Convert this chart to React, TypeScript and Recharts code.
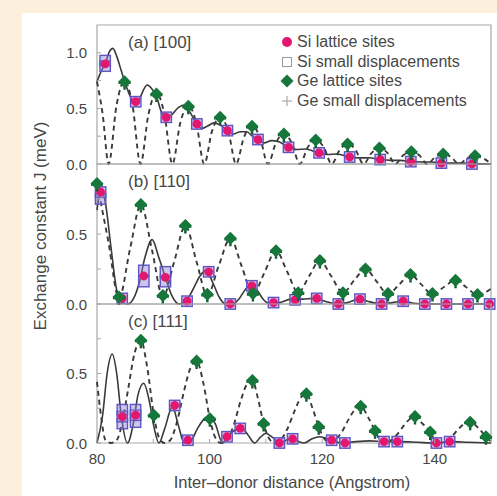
import React from 'react';
import { ComposedChart, Line, Scatter, XAxis, YAxis, ReferenceArea } from 'recharts';

// ---------- data ----------
const xDomain = [80, 150];
const xTicks = [80, 90, 100, 110, 120, 130, 140, 150];
const xTickLabels = [80, 100, 120, 140];
const yTicksA = [0, 0.25, 0.5, 0.75, 1.0];
const yLabelsA = [0, 0.5, 1.0];
const yTicksBC = [0, 0.25, 0.5, 0.75];
const yLabelsBC = [0, 0.5];

// Panel (a) [100]
const siSitesA = [
  [81.45, 0.9], [86.88, 0.56], [92.31, 0.42], [97.74, 0.36], [103.17, 0.3], [108.6, 0.22],
  [114.03, 0.15], [119.46, 0.1], [124.89, 0.063], [130.32, 0.04], [135.75, 0.021],
  [141.18, 0.008], [146.61, 0.0],
];
const siDispA = [
  [81.45, 0.93], [81.45, 0.88], [86.88, 0.56], [92.31, 0.42], [97.74, 0.36], [103.17, 0.3],
  [108.6, 0.22], [114.03, 0.15], [119.46, 0.1], [124.89, 0.063], [130.32, 0.04],
  [135.75, 0.021], [141.18, 0.008], [146.61, 0.0],
];
const geSitesA = [
  [84.9, 0.74], [90.56, 0.63], [96.22, 0.52], [101.88, 0.42], [107.54, 0.34], [113.2, 0.27],
  [118.86, 0.215], [124.52, 0.18], [130.18, 0.145], [135.84, 0.11], [141.5, 0.09], [147.16, 0.075],
];
const geCurveA = [
  [80, 0.74], [81.0, 0.45], [82.07, 0], [83.48, 0.53], [84.9, 0.75], [86.3, 0.53], [87.73, 0],
  [89.15, 0.45], [90.56, 0.64], [91.97, 0.45], [93.39, 0], [94.8, 0.37], [96.22, 0.53],
  [97.63, 0.37], [99.05, 0], [100.46, 0.3], [101.88, 0.42], [103.3, 0.3], [104.71, 0],
  [106.1, 0.24], [107.54, 0.345], [108.95, 0.24], [110.37, 0], [111.8, 0.19], [113.2, 0.275],
  [114.6, 0.19], [116.03, 0], [117.45, 0.15], [118.86, 0.215], [120.3, 0.15], [121.69, 0],
  [123.1, 0.125], [124.52, 0.18], [125.95, 0.125], [127.35, 0], [128.8, 0.1], [130.18, 0.145],
  [131.6, 0.1], [133.01, 0], [134.4, 0.078], [135.84, 0.11], [137.25, 0.078], [138.67, 0],
  [140.1, 0.063], [141.5, 0.09], [142.9, 0.063], [144.33, 0], [145.75, 0.052], [147.16, 0.075],
  [148.6, 0.052], [150, 0.0],
];
const siCurveA = [
  [80, 0.74], [80.8, 0.84], [81.45, 0.9], [82.2, 1.01], [82.8, 1.04], [83.5, 0.97], [84.3, 0.84],
  [85.2, 0.7], [86.2, 0.58], [86.88, 0.56], [87.5, 0.58], [88.2, 0.66], [88.9, 0.71], [89.7, 0.68],
  [90.6, 0.6], [91.5, 0.46], [92.31, 0.42], [93.2, 0.44], [94.5, 0.51], [95.6, 0.53], [96.6, 0.46],
  [97.74, 0.36], [98.6, 0.32], [99.6, 0.34], [100.8, 0.37], [101.9, 0.35], [103.17, 0.3],
  [104.2, 0.27], [105.5, 0.29], [106.6, 0.29], [107.6, 0.25], [108.6, 0.22], [109.7, 0.19],
  [111.0, 0.21], [112.3, 0.2], [114.03, 0.15], [115.5, 0.13], [117.0, 0.135], [118.2, 0.12],
  [119.46, 0.1], [121.0, 0.085], [122.6, 0.09], [124.89, 0.063], [126.6, 0.055], [128.3, 0.056],
  [130.32, 0.04], [132.2, 0.033], [133.8, 0.033], [135.75, 0.022], [137.6, 0.018], [139.3, 0.018],
  [141.18, 0.01], [143.0, 0.008], [144.8, 0.008], [146.61, 0.003], [150, 0.0],
];

// Panel (b) [110]
const siSitesB = [
  [80.64, 0.8], [84.48, 0.04], [88.32, 0.2], [92.16, 0.19], [96.0, 0.02], [99.84, 0.23],
  [103.68, 0.0], [107.52, 0.13], [111.36, 0.01], [115.2, 0.03], [119.04, 0.04], [122.88, 0.0],
  [126.72, 0.035], [130.56, 0.0], [134.4, 0.02], [138.24, 0.0], [142.08, 0.0], [145.92, 0.0],
  [149.76, 0.0],
];
const siDispB = [
  [80.64, 0.8], [80.64, 0.75], [84.48, 0.04], [88.32, 0.16], [88.32, 0.24], [92.16, 0.16],
  [92.16, 0.23], [96.0, 0.02], [99.84, 0.23], [103.68, 0.0], [107.52, 0.13], [111.36, 0.01],
  [115.2, 0.03], [119.04, 0.04], [122.88, 0.0], [126.72, 0.035], [130.56, 0.0], [134.4, 0.02],
  [138.24, 0.0], [142.08, 0.0], [145.92, 0.0], [149.76, 0.0],
];
const geSitesB = [
  [80.0, 0.86], [83.9, 0.05], [87.8, 0.71], [91.7, 0.06], [95.7, 0.56], [99.6, 0.07],
  [103.7, 0.47], [107.7, 0.075], [111.8, 0.38], [115.75, 0.08], [119.6, 0.31], [123.7, 0.08],
  [127.7, 0.25], [131.7, 0.075], [135.7, 0.21], [139.6, 0.075], [143.7, 0.17], [147.6, 0.068],
];
const geCurveB = [
  [80, 0.86], [82, 0.45], [83.9, 0.04], [85.9, 0.4], [87.8, 0.71], [89.8, 0.38], [91.7, 0.05],
  [93.7, 0.3], [95.7, 0.56], [97.7, 0.3], [99.6, 0.06], [101.6, 0.27], [103.7, 0.47],
  [105.7, 0.27], [107.7, 0.07], [109.7, 0.22], [111.8, 0.38], [113.8, 0.23], [115.75, 0.08],
  [117.7, 0.2], [119.6, 0.31], [121.6, 0.2], [123.7, 0.08], [125.7, 0.17], [127.7, 0.25],
  [129.7, 0.16], [131.7, 0.07], [133.7, 0.14], [135.7, 0.21], [137.6, 0.14], [139.6, 0.07],
  [141.6, 0.12], [143.7, 0.17], [145.6, 0.12], [147.6, 0.065], [150, 0.11],
];
const siCurveB = [
  [80, 0.67], [80.7, 0.82], [81.5, 0.72], [82.5, 0.4], [83.5, 0.1], [84.5, 0.01], [85.5, 0.0],
  [86.5, 0.04], [87.5, 0.15], [88.5, 0.33], [89.8, 0.46], [91.0, 0.33], [92.16, 0.19],
  [93.3, 0.06], [94.6, 0.0], [95.8, 0.02], [97.0, 0.1], [98.3, 0.2], [99.4, 0.24], [100.6, 0.15],
  [101.7, 0.05], [102.8, 0.0], [104.0, 0.0], [105.3, 0.04], [106.3, 0.1], [107.3, 0.135],
  [108.4, 0.1], [109.6, 0.03], [110.8, 0.0], [112.5, 0.01], [114.5, 0.035], [116.5, 0.035],
  [118.5, 0.04], [120.5, 0.02], [122.5, 0.0], [124.5, 0.01], [126.5, 0.035], [128.5, 0.015],
  [130.5, 0.0], [132.5, 0.01], [134.3, 0.02], [136.3, 0.005], [138.3, 0.0], [142, 0.0],
  [146, 0.0], [150, 0.0],
];

// Panel (c) [111]
const siSitesC = [
  [84.5, 0.19], [86.85, 0.2], [93.8, 0.27], [96.15, 0.02], [103.1, 0.045], [105.45, 0.105],
  [112.4, 0.0], [114.75, 0.03], [121.7, 0.02], [124.05, 0.0], [131.0, 0.01], [133.35, 0.01],
  [140.3, 0.0], [142.65, 0.01],
];
const siDispC = [
  [84.5, 0.14], [84.5, 0.19], [84.5, 0.24], [86.85, 0.15], [86.85, 0.2], [86.85, 0.24],
  [93.8, 0.27], [96.15, 0.02], [103.1, 0.045], [105.45, 0.105], [112.4, 0.0], [114.75, 0.03],
  [121.7, 0.02], [124.05, 0.0], [131.0, 0.01], [133.35, 0.01], [140.3, 0.0], [142.65, 0.01],
];
const geSitesC = [
  [87.8, 0.74], [90.1, 0.2], [97.7, 0.59], [100.05, 0.175], [107.6, 0.45], [109.6, 0.14],
  [117.2, 0.355], [119.4, 0.117], [126.85, 0.265], [129.4, 0.088], [136.5, 0.19], [139.2, 0.08],
  [146.3, 0.15], [149.1, 0.045],
];
const geCurveC = [
  [80, 0.44], [80.7, 0.2], [81.5, 0.02], [82.5, 0.0], [83.5, 0.02], [84.5, 0.15], [85.5, 0.38],
  [86.7, 0.65], [87.8, 0.74], [88.9, 0.55], [90.1, 0.2], [91.0, 0.04], [92.0, 0.0], [93.0, 0.02],
  [94.2, 0.15], [95.5, 0.38], [96.6, 0.54], [97.7, 0.59], [98.9, 0.43], [100.05, 0.175],
  [101.0, 0.04], [102.0, 0.0], [103.0, 0.02], [104.3, 0.13], [105.5, 0.3], [106.6, 0.42],
  [107.6, 0.45], [108.6, 0.32], [109.6, 0.14], [110.6, 0.03], [111.6, 0.0], [112.6, 0.02],
  [113.8, 0.1], [115.0, 0.22], [116.1, 0.32], [117.2, 0.355], [118.3, 0.25], [119.4, 0.117],
  [120.4, 0.03], [121.3, 0.0], [122.3, 0.02], [123.5, 0.08], [124.7, 0.17], [125.8, 0.24],
  [126.85, 0.265], [128.1, 0.19], [129.4, 0.088], [130.3, 0.02], [131.2, 0.0], [132.2, 0.02],
  [133.3, 0.06], [134.4, 0.12], [135.5, 0.17], [136.5, 0.19], [137.8, 0.14], [139.2, 0.08],
  [140.0, 0.02], [141.0, 0.0], [142.0, 0.015], [143.1, 0.05], [144.2, 0.1], [145.3, 0.14],
  [146.3, 0.15], [147.7, 0.11], [149.1, 0.045], [150, 0.01],
];
const siCurveC = [
  [80, 0.0], [81.0, 0.2], [81.8, 0.5], [82.7, 0.64], [83.5, 0.5], [84.3, 0.2], [85.4, 0.0],
  [86.5, 0.15], [87.3, 0.35], [88.3, 0.43], [89.3, 0.3], [90.2, 0.1], [91.0, 0.0], [92.0, 0.1],
  [93.4, 0.26], [94.5, 0.12], [95.5, 0.0], [96.6, 0.01], [97.8, 0.1], [99.2, 0.18], [99.9, 0.19],
  [101.0, 0.14], [102.3, 0.0], [103.1, 0.04], [104.4, 0.09], [105.6, 0.11], [106.8, 0.06],
  [108.0, 0.0], [109.0, 0.04], [110.0, 0.07], [111.2, 0.04], [112.4, 0.0], [113.6, 0.02],
  [114.75, 0.03], [115.8, 0.01], [116.8, 0.0], [118.2, 0.03], [119.5, 0.045], [120.6, 0.035],
  [121.7, 0.02], [123.5, 0.0], [126, 0.01], [128.5, 0.015], [131, 0.01], [134, 0.01],
  [137, 0.005], [140, 0.0], [143, 0.01], [146, 0.005], [150, 0.0],
];

// ---------- layout / style ----------
const W = 497;
const H = 496;
const LEFT = 97;
const RIGHT = 491;
const FONT = '"Liberation Sans", Arial, Helvetica, sans-serif';
const TEXT = '#474747';
const FRAME = '#a8a8a8';
const MAGENTA = '#e3176e';
const GREEN = '#15773a';
const LINE = '#3a3a3a';

type Pt = { d: number; J: number };
const toPts = (arr: number[][]): Pt[] => arr.map(([d, J]) => ({ d, J }));

const siDot = (p: any) => <circle cx={p.cx} cy={p.cy} r={4.4} fill={MAGENTA} />;
const siSquare = (p: any) => (
  <rect x={p.cx - 5.2} y={p.cy - 5.2} width={10.4} height={10.4} fill="#8f7fd6" fillOpacity={0.45}
    stroke="#5e55c2" strokeWidth={1.4} />
);
const geDiamond = (p: any) => (
  <path d={`M${p.cx},${p.cy - 6.5} L${p.cx + 6.5},${p.cy} L${p.cx},${p.cy + 6.5} L${p.cx - 6.5},${p.cy} Z`}
    fill={GREEN} />
);
const gePlus = (p: any) => (
  <path d={`M${p.cx - 6},${p.cy + 1} H${p.cx + 6} M${p.cx},${p.cy - 5} V${p.cy + 8}`}
    stroke="#0e5a28" strokeWidth={2.4} fill="none" />
);

type PanelProps = {
  top: number;
  bottom: number;
  yMax: number;
  yTicks: number[];
  yLabels: number[];
  showX: boolean;
  siSites: number[][];
  siDisp: number[][];
  geSites: number[][];
  geCurve: number[][];
  siCurve: number[][];
};

function Panel(props: PanelProps) {
  const { top, bottom, yMax, yTicks, yLabels, showX } = props;
  const yTick = (tp: any) => {
    const v = tp.payload.value;
    const show = yLabels.some((l) => Math.abs(l - v) < 1e-6);
    return (
      <g>
        <line x1={LEFT} x2={LEFT + 4} y1={tp.y} y2={tp.y} stroke={FRAME} strokeWidth={1} />
        {show && (
          <text x={LEFT - 10} y={tp.y} textAnchor="end" dominantBaseline="central" fontSize={15}
            fill={TEXT} fontFamily={FONT}>{v.toFixed(1)}</text>
        )}
      </g>
    );
  };
  const xTick = (tp: any) => {
    const v = tp.payload.value;
    const show = showX && xTickLabels.includes(v);
    return (
      <g>
        <line x1={tp.x} x2={tp.x} y1={bottom} y2={bottom - 4} stroke={FRAME} strokeWidth={1} />
        {show && (
          <text x={tp.x} y={bottom + 15} textAnchor="middle" dominantBaseline="central" fontSize={15}
            fill={TEXT} fontFamily={FONT}>{v}</text>
        )}
      </g>
    );
  };
  return (
    <div style={{ position: 'absolute', left: 0, top: 0 }}>
      <ComposedChart width={W} height={H}
        margin={{ top, bottom: showX ? 0 : H - bottom, left: LEFT - 40, right: W - RIGHT }}>
        <XAxis type="number" dataKey="d" domain={xDomain} ticks={xTicks} interval={0}
          height={showX ? H - bottom : 0} tickLine={false} axisLine={false} tick={xTick} />
        <YAxis type="number" dataKey="J" domain={[0, yMax]} ticks={yTicks} interval={0} width={40}
          tickLine={false} axisLine={false} tick={yTick} />
        <ReferenceArea x1={80} x2={150} y1={0} y2={yMax} fill="none" stroke={FRAME} strokeWidth={1.2} />
        <Line data={toPts(props.geCurve)} dataKey="J" type="monotone" stroke={LINE} strokeWidth={1.9}
          strokeDasharray="5 4" dot={false} isAnimationActive={false} />
        <Line data={toPts(props.siCurve)} dataKey="J" type="monotone" stroke={LINE} strokeWidth={1.6}
          dot={false} isAnimationActive={false} />
        <Scatter data={toPts(props.siDisp)} dataKey="J" shape={siSquare} isAnimationActive={false} />
        <Scatter data={toPts(props.siSites)} dataKey="J" shape={siDot} isAnimationActive={false} />
        <Scatter data={toPts(props.geSites)} dataKey="J" shape={gePlus} isAnimationActive={false} />
        <Scatter data={toPts(props.geSites)} dataKey="J" shape={geDiamond} isAnimationActive={false} />
      </ComposedChart>
    </div>
  );
}

const legendItems = [
  { label: 'Si lattice sites', kind: 'circle' },
  { label: 'Si small displacements', kind: 'square' },
  { label: 'Ge lattice sites', kind: 'diamond' },
  { label: 'Ge small displacements', kind: 'plus' },
];

function LegendMarker({ kind }: { kind: string }) {
  return (
    <svg width={14} height={14} style={{ display: 'block' }}>
      {kind === 'circle' && <circle cx={7} cy={7} r={5} fill={MAGENTA} />}
      {kind === 'square' && <rect x={2.5} y={2.5} width={9} height={9} fill="none" stroke="#9a9a9a" strokeWidth={1} />}
      {kind === 'diamond' && <path d="M7,0.5 L13.5,7 L7,13.5 L0.5,7 Z" fill={GREEN} />}
      {kind === 'plus' && <path d="M2,7 H12 M7,2 V12" stroke="#9a9a9a" strokeWidth={1} />}
    </svg>
  );
}

const panelLabels = [
  { text: '(a) [100]', top: 43 },
  { text: '(b) [110]', top: 182 },
  { text: '(c) [111]', top: 322 },
];

export default function App() {
  return (
    <div style={{ position: 'relative', width: W, height: H, background: '#fcefdc', overflow: 'hidden', fontFamily: FONT }}>
      <style>{'body{margin:0}'}</style>
      <div style={{ position: 'absolute', left: 22, top: 13, width: W - 22, height: H - 13, background: '#ffffff' }} />
      <Panel top={25} bottom={164} yMax={1.25} yTicks={yTicksA} yLabels={yLabelsA} showX={false}
        siSites={siSitesA} siDisp={siDispA} geSites={geSitesA} geCurve={geCurveA} siCurve={siCurveA} />
      <Panel top={164} bottom={304} yMax={1.0} yTicks={yTicksBC} yLabels={yLabelsBC} showX={false}
        siSites={siSitesB} siDisp={siDispB} geSites={geSitesB} geCurve={geCurveB} siCurve={siCurveB} />
      <Panel top={304} bottom={443} yMax={1.0} yTicks={yTicksBC} yLabels={yLabelsBC} showX={true}
        siSites={siSitesC} siDisp={siDispC} geSites={geSitesC} geCurve={geCurveC} siCurve={siCurveC} />
      {panelLabels.map((p) => (
        <div key={p.text} style={{ position: 'absolute', left: 128, top: p.top - 10, height: 20, lineHeight: '20px', fontSize: 17, color: TEXT, whiteSpace: 'nowrap' }}>
          {p.text}
        </div>
      ))}
      <div style={{ position: 'absolute', left: 280, top: 32 }}>
        {legendItems.map((it) => (
          <div key={it.label} style={{ display: 'flex', alignItems: 'center', height: 19.7, fontSize: 16, color: TEXT, whiteSpace: 'nowrap' }}>
            <LegendMarker kind={it.kind} />
            <span style={{ marginLeft: 3 }}>{it.label}</span>
          </div>
        ))}
      </div>
      <div style={{ position: 'absolute', left: 41 - 150, top: 226 - 10, width: 300, height: 20, lineHeight: '20px', textAlign: 'center', transform: 'rotate(-90deg)', fontSize: 17, color: TEXT, whiteSpace: 'nowrap' }}>
        Exchange constant J (meV)
      </div>
      <div style={{ position: 'absolute', left: 292 - 200, top: 482 - 10, width: 400, height: 20, lineHeight: '20px', textAlign: 'center', fontSize: 16.5, color: TEXT, whiteSpace: 'nowrap' }}>
        Inter–donor distance (Angstrom)
      </div>
    </div>
  );
}
